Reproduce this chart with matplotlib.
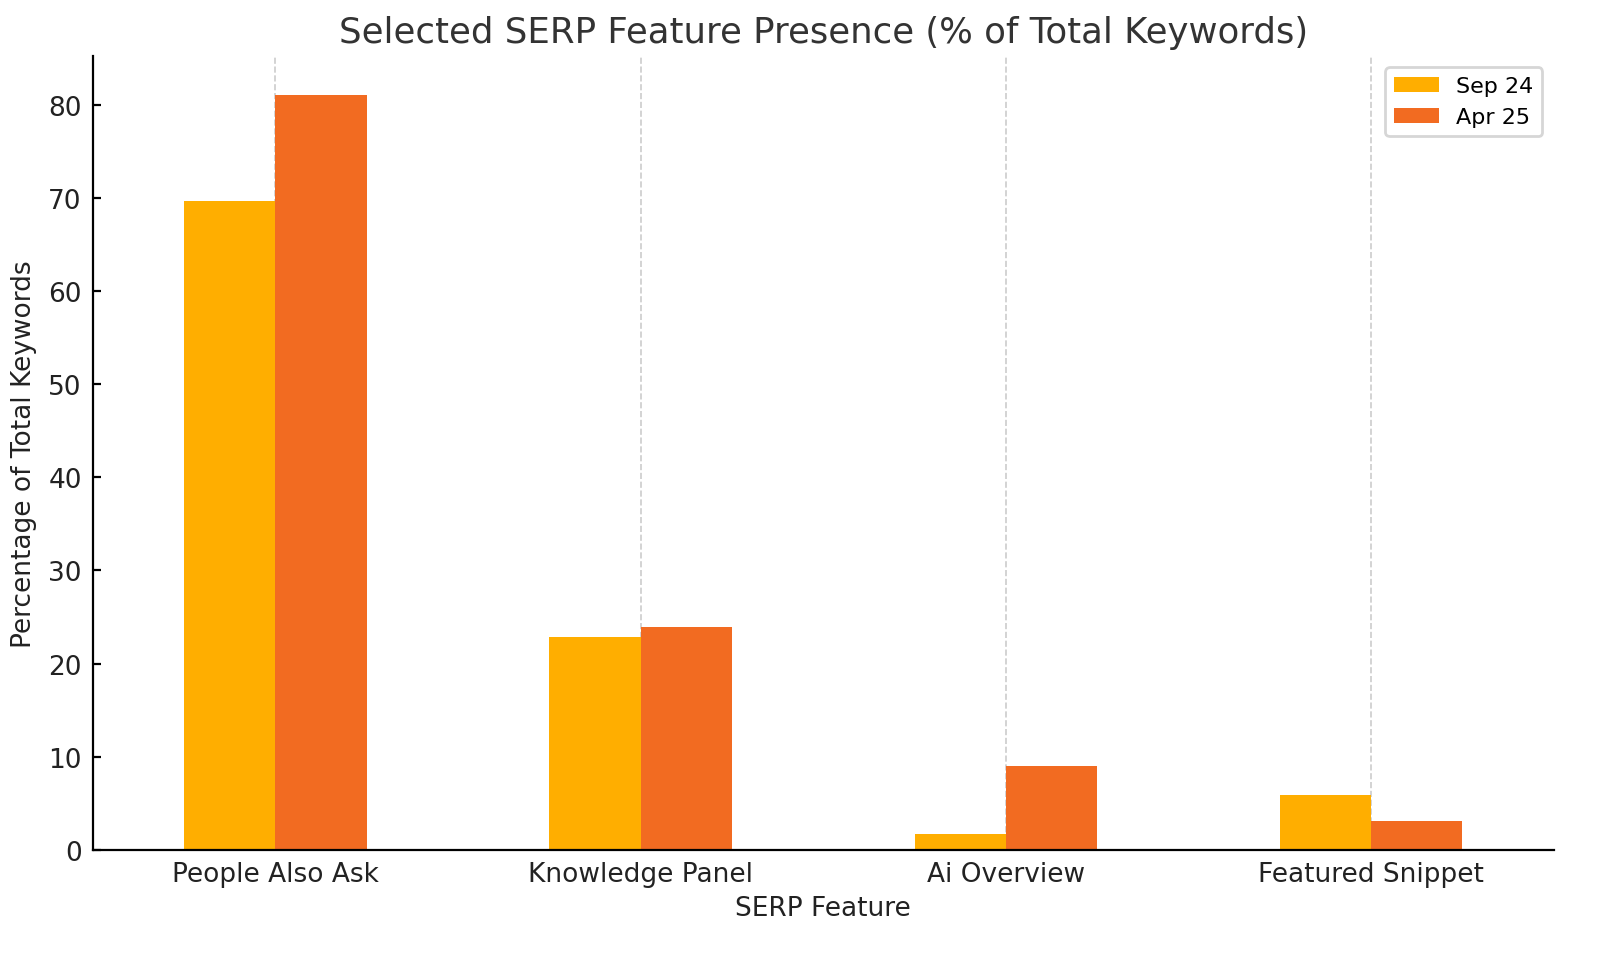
import numpy as np
import matplotlib
matplotlib.use("Agg")
import matplotlib.pyplot as plt

features = ["People Also Ask", "Knowledge Panel", "Ai Overview", "Featured Snippet"]
sep_24 = [69.7, 22.9, 1.7, 5.9]
apr_25 = [81.0, 23.9, 9.0, 3.1]
series_names = ["Sep 24", "Apr 25"]

plt.rcParams['font.family'] = ['DejaVu Sans']

fig = plt.figure(figsize=(8, 4.77), dpi=200)
ax = fig.add_axes([0.058, 0.108, 0.913, 0.832])

x = np.arange(len(features))
w = 0.25
ax.bar(x, sep_24, width=-w, align='edge', color='#FFAE00', label=series_names[0], zorder=2)
ax.bar(x, apr_25, width=w, align='edge', color='#F26B21', label=series_names[1], zorder=2)

ax.set_xticks(x)
ax.set_xticklabels(features, fontsize=9.5, color='#222222')
ax.tick_params(axis='both', direction='in', length=3, width=0.8, pad=4)
ax.tick_params(axis='y', labelsize=9.5, labelcolor='#222222')
ax.set_xlim(-0.5, 3.5)
ax.set_ylim(0, 85.2)

ax.set_title("Selected SERP Feature Presence (% of Total Keywords)", fontsize=12.8, color='#333333', pad=5)
ax.set_xlabel("SERP Feature", fontsize=9.5, color='#222222', labelpad=3)
ax.set_ylabel("Percentage of Total Keywords", fontsize=9.5, color='#222222', labelpad=4)

ax.spines['top'].set_visible(False)
ax.spines['right'].set_visible(False)
ax.xaxis.grid(True, linestyle='--', color='#cccccc', linewidth=0.6, zorder=0)
ax.set_axisbelow(True)

ax.legend(loc='upper right', fontsize=8, frameon=True, edgecolor='#cccccc')

fig.savefig("out.png", dpi=200)
